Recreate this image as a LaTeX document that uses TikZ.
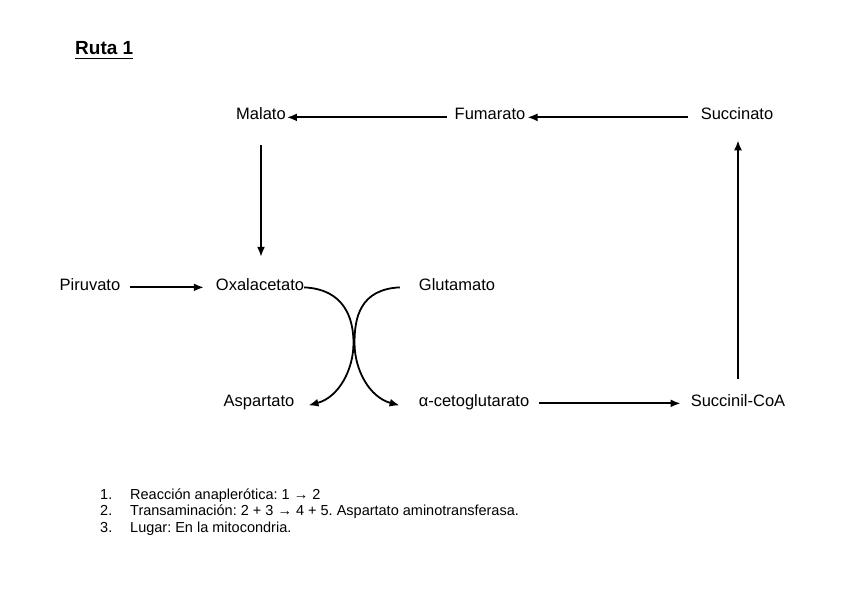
\documentclass[tikz,border=0pt]{standalone}
\usepackage{fontspec}
\setmainfont{Liberation Sans}
\usetikzlibrary{arrows.meta}
\begin{document}
\frenchspacing
\begin{tikzpicture}[x=1pt,y=-1pt,
  lbl/.style={inner sep=0pt,anchor=base,font=\fontsize{16.5}{19}\selectfont},
  arr/.style={line width=1.8pt,-{Latex[length=10pt,width=8pt]}},
  note/.style={inner sep=0pt,anchor=base west,font=\fontsize{14.5}{16}\selectfont}]
\useasboundingbox (0,0) rectangle (848,599);
\node[inner sep=0pt,anchor=base west,font=\fontsize{19}{22}\bfseries] (title) at (75,55) {Ruta 1};
\draw[line width=1.3pt] (title.base west) ++(0,3.5) -- ([yshift=-3.5pt]title.base east);
\node[lbl] (mal) at (261,120) {Malato};
\node[lbl] (fum) at (490,120) {Fumarato};
\node[lbl] (sto) at (737,120) {Succinato};
\node[lbl] (pir) at (90,290) {Piruvato};
\node[lbl] (oxa) at (260,290) {Oxalacetato};
\node[lbl] (glu) at (457,290) {Glutamato};
\node[lbl] (asp) at (259,406) {Aspartato};
\node[lbl] (ake) at (474,406) {α-cetoglutarato};
\node[lbl] (sca) at (738,406) {Succinil-CoA};
\draw[arr,shorten <=8pt,shorten >=1pt] (fum.mid west) -- (mal.mid east);
\draw[arr,shorten <=13pt,shorten >=2pt] (sto.mid west) -- (fum.mid east);
\draw[arr,shorten <=25pt,shorten >=21pt] (mal.south) -- (mal.south |- oxa.north);
\draw[arr,shorten <=10pt,shorten >=12pt] (pir.mid east) -- (oxa.mid west);
\draw[arr,shorten <=10pt,shorten >=10pt] (ake.mid east) -- (sca.mid west);
\draw[arr,shorten <=15pt,shorten >=20pt] (sca.north) -- (sca.north |- sto.south);
\coordinate (c1) at (353.5,343);
\coordinate (c2) at (354.5,343);
\coordinate (asptip) at ([xshift=14pt,yshift=-2pt]asp.mid east);
\coordinate (aketip) at ([xshift=-19pt,yshift=-2pt]ake.mid west);
\coordinate (glust) at ([xshift=-19pt]glu.mid west);
\draw[arr] (oxa.mid east) .. controls +(40,2) and +(0,-25) .. (c1) .. controls +(0,27) and +(30,-8) .. (asptip);
\draw[arr] (glust) .. controls +(-40,2) and +(0,-25) .. (c2) .. controls +(0,27) and +(-30,-8) .. (aketip);
\node[note] (n1) at (100,499) {1.};
\node[note] (n2) at (100,515) {2.};
\node[note] (n3) at (100,532) {3.};
\node[note] (t1) at (130,499) {Reacción anaplerótica: 1 → 2};
\node[note] (t2) at (130,515) {Transaminación: 2 + 3 → 4 + 5. Aspartato aminotransferasa.};
\node[note] (t3) at (130,532) {Lugar: En la mitocondria.};
\end{tikzpicture}
\end{document}
